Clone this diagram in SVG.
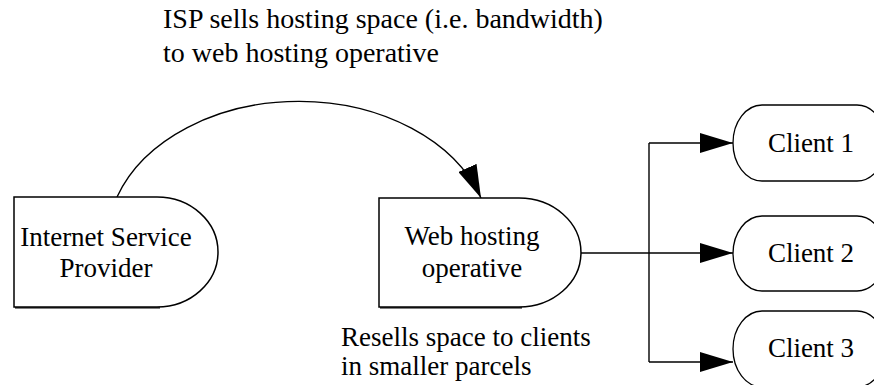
<svg xmlns="http://www.w3.org/2000/svg" width="874" height="385" viewBox="0 0 874 385">
<style>
.node{fill:#fff;stroke:#000;stroke-width:1.5}
.cl{stroke-width:1.3}
.shadow{fill:none;stroke:#000;stroke-width:1.2}
.conn{fill:none;stroke:#000;stroke-width:1.4}
.t{font-family:'Liberation Serif','DejaVu Serif','Noto Serif',serif;font-size:27px;fill:#000}
.lbl{font-size:28px}
.c{text-anchor:middle}
</style>
<defs>
<marker id="ah" markerUnits="userSpaceOnUse" markerWidth="34" markerHeight="20" refX="33" refY="10" orient="auto">
<path d="M0,0 L33,10 L0,20 Z" fill="#000"/>
</marker>
</defs>
<rect width="874" height="385" fill="#fff"/>
<g id="label-top">
<text class="t lbl" x="163" y="28">ISP sells hosting space (i.e. bandwidth)</text>
<text class="t lbl" x="163" y="62">to web hosting operative</text>
</g>
<g id="label-bottom">
<text class="t" x="341" y="346">Resells space to clients</text>
<text class="t" x="341" y="375">in smaller parcels</text>
</g>
<g id="connectors">
<path class="conn" d="M117,197 A192,141 0 0 1 481,198" marker-end="url(#ah)"/>
<path class="conn" d="M581,253 H733" marker-end="url(#ah)"/>
<path class="conn" d="M649,143 V362"/>
<path class="conn" d="M649,143 H733" marker-end="url(#ah)"/>
<path class="conn" d="M649,362 H733" marker-end="url(#ah)"/>
</g>
<g id="isp">
<path class="node" d="M14,197 H157 A61,55 0 0 1 157,307 H14 Z"/>
<path class="shadow" d="M15,307.8 H160"/>
<text class="t c" x="106" y="246">Internet Service</text>
<text class="t c" x="106" y="277">Provider</text>
</g>
<g id="webhost">
<path class="node" d="M379,198 H519 A62,54.5 0 0 1 519,307 H379 Z"/>
<path class="shadow" d="M380,307.8 H522"/>
<text class="t c" x="472" y="245">Web hosting</text>
<text class="t c" x="472" y="277">operative</text>
</g>
<g id="client1">
<rect class="node cl" x="733" y="105" width="153" height="76" rx="29" ry="38"/>
<text class="t c" x="811" y="152">Client 1</text>
</g>
<g id="client2">
<rect class="node cl" x="733" y="216" width="153" height="75" rx="29" ry="37.5"/>
<text class="t c" x="811" y="262">Client 2</text>
</g>
<g id="client3">
<rect class="node cl" x="733" y="311" width="153" height="76" rx="29" ry="38"/>
<text class="t c" x="811" y="357">Client 3</text>
</g>
</svg>
